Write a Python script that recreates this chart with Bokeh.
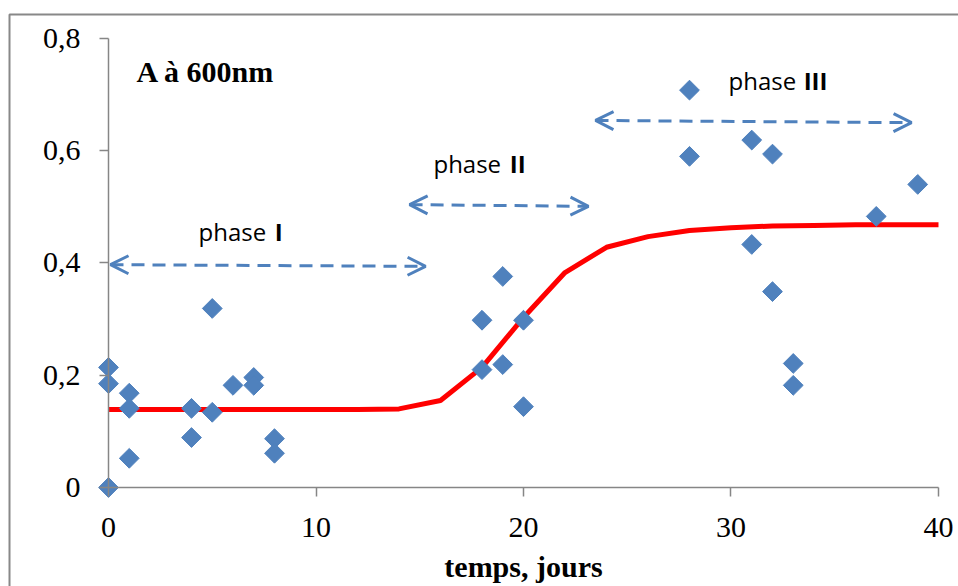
import math
from bokeh.plotting import figure
from bokeh.models import Range1d, Arrow, OpenHead, FixedTicker, BoxAnnotation
from bokeh.core.properties import value
from bokeh.embed import file_html
from bokeh.resources import INLINE

# ---- data ----
days = [0, 0, 0, 1, 1, 1, 4, 4, 5, 5, 6, 7, 7, 8, 8,
        18, 18, 19, 19, 20, 20, 28, 28, 31, 31, 32, 32, 33, 33, 37, 39]
absorbance = [0.0, 0.214, 0.185, 0.168, 0.141, 0.052, 0.141, 0.089, 0.319, 0.134,
              0.182, 0.196, 0.182, 0.087, 0.061,
              0.298, 0.210, 0.376, 0.219, 0.298, 0.144, 0.708, 0.590, 0.619, 0.433,
              0.594, 0.349, 0.221, 0.182, 0.483, 0.540]

fit_days = [0, 2, 4, 6, 8, 10, 12, 14, 16, 18, 20, 22, 24, 26, 28, 30, 32, 34, 36, 38, 40]
fit_abs = [0.139, 0.139, 0.139, 0.139, 0.139, 0.139, 0.139, 0.140, 0.155, 0.214, 0.303,
           0.383, 0.428, 0.447, 0.458, 0.463, 0.466, 0.467, 0.468, 0.468, 0.468]

x_ticks = [0, 10, 20, 30, 40]
y_ticks = [0, 0.2, 0.4, 0.6, 0.8]
y_tick_labels = ["0", "0,2", "0,4", "0,6", "0,8"]

phase_names = ["phase", "phase", "phase"]
phase_numerals = ["I", "II", "III"]
phase_text_x = [4.34, 15.66, 29.88]
phase_num_x_end = [8.39, 20.1, 34.65]
phase_text_y = [0.457, 0.578, 0.726]

arrow_x0 = [0.096, 14.51, 23.47]
arrow_y0 = [0.397, 0.504, 0.654]
arrow_x1 = [15.28, 23.13, 38.70]
arrow_y1 = [0.394, 0.501, 0.650]

title_text = "A à 600nm"
title_x = 1.35
title_y = 0.741

BLUE = "#4F81BD"
GRAY = "#868686"
SERIF = "Liberation Serif"

# the plot frame covers the whole page; axes are pinned at x=0 / y=0
p = figure(width=958, height=586,
           x_range=Range1d(-5.205, 40.964), y_range=Range1d(-0.1764, 0.8677),
           min_border=0, output_backend="svg", toolbar_location=None)

p.outline_line_color = None
p.xgrid.visible = False
p.ygrid.visible = False

# chart-area border (left and top edges visible)
p.add_layout(BoxAnnotation(left=-4.771, top=0.8428, right=45, bottom=-1,
                           fill_alpha=0, line_color="#888888", line_alpha=1.0,
                           line_width=2))

for ax in (p.xaxis[0], p.yaxis[0]):
    ax.fixed_location = 0
    ax.axis_line_color = GRAY
    ax.axis_line_width = 1.5
    ax.major_tick_line_color = GRAY
    ax.major_tick_line_width = 1.5
    ax.major_tick_out = 9
    ax.major_tick_in = 0
    ax.minor_tick_line_color = None
    ax.major_label_text_font = SERIF
    ax.major_label_text_font_size = "30px"
    ax.major_label_text_color = "black"

p.xaxis[0].major_label_standoff = 22
p.yaxis[0].major_label_standoff = 19
p.xaxis[0].bounds = (0, 40)
p.yaxis[0].bounds = (0, 0.8)
p.xaxis[0].ticker = FixedTicker(ticks=x_ticks)
p.yaxis[0].ticker = FixedTicker(ticks=y_ticks)
p.yaxis[0].major_label_overrides = {t: l for t, l in zip(y_ticks, y_tick_labels)}
p.xaxis[0].axis_label = "temps, jours"
p.xaxis[0].axis_label_text_font = SERIF
p.xaxis[0].axis_label_text_font_style = "bold"
p.xaxis[0].axis_label_text_font_size = "30px"
p.xaxis[0].axis_label_text_color = "black"
p.xaxis[0].axis_label_standoff = 9

# fitted curve
p.line(fit_days, fit_abs, line_color="#FF0000", line_width=5)

# measurements
p.scatter(days, absorbance, marker="square", angle=math.pi / 4, size=14,
          fill_color=BLUE, line_color=BLUE)

# phase arrows
for x0, y0, x1, y1 in zip(arrow_x0, arrow_y0, arrow_x1, arrow_y1):
    p.add_layout(Arrow(x_start=x0, y_start=y0, x_end=x1, y_end=y1,
                       line_color=BLUE, line_width=3, line_dash="13 8",
                       start=OpenHead(size=18, line_color=BLUE, line_width=3),
                       end=OpenHead(size=18, line_color=BLUE, line_width=3)))

# phase labels
p.text(x=phase_text_x, y=phase_text_y, text=phase_names,
       text_font=value("Open Sans"), text_font_size="24px", text_color="black",
       text_baseline="alphabetic", text_align="left")
p.text(x=phase_num_x_end, y=phase_text_y, text=phase_numerals,
       text_font=value("Open Sans"), text_font_size="24px", text_font_style="bold",
       text_color="black", text_baseline="alphabetic", text_align="right")

# title inside plot
p.text(x=[title_x], y=[title_y], text=[title_text],
       text_font=value(SERIF), text_font_size="30px", text_font_style="bold",
       text_color="black", text_baseline="alphabetic", text_align="left")

open("out.html", "w").write(file_html(p, INLINE))
